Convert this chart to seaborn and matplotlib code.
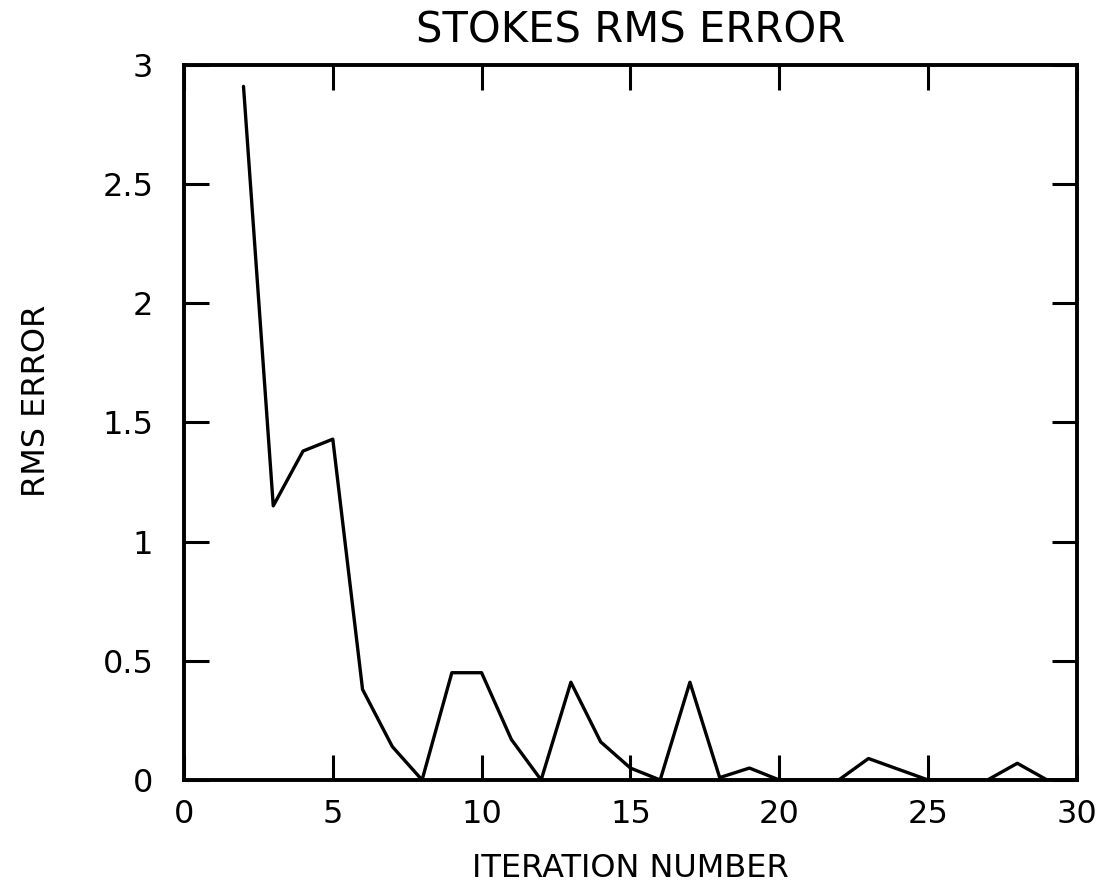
import pandas as pd
import seaborn as sns
import matplotlib
matplotlib.use('Agg')
import matplotlib.pyplot as plt

# values
iterations = [2, 3, 4, 5, 6, 7, 8, 9, 10, 11, 12, 13, 14, 15, 16,
              17, 18, 19, 20, 21, 22, 23, 24, 25, 26, 27, 28, 29, 30]
rms_error = [2.91, 1.15, 1.38, 1.43, 0.38, 0.14, 0.0, 0.45, 0.45, 0.17, 0.0, 0.41, 0.16, 0.05, 0.0,
             0.41, 0.01, 0.05, 0.0, 0.0, 0.0, 0.09, 0.045, 0.0, 0.0, 0.0, 0.07, 0.0, 0.0]
x_ticks = [0, 5, 10, 15, 20, 25, 30]
y_ticks = [0, 0.5, 1, 1.5, 2, 2.5, 3]
y_tick_labels = ["0", "0.5", "1", "1.5", "2", "2.5", "3"]

df = pd.DataFrame({"Iteration": iterations, "RMS": rms_error})

sns.set_theme(style="ticks", rc={
    "axes.linewidth": 2.8,
    "axes.edgecolor": "black",
    "text.color": "black",
    "axes.labelcolor": "black",
    "xtick.color": "black",
    "ytick.color": "black",
    "xtick.direction": "in",
    "ytick.direction": "in",
    "xtick.major.size": 18,
    "ytick.major.size": 18,
    "xtick.major.width": 2.2,
    "ytick.major.width": 2.2,
    "xtick.major.pad": 14,
    "ytick.major.pad": 22,
})
plt.rcParams["font.family"] = ["DejaVu Sans"]

fig = plt.figure(figsize=(11.05, 8.96), dpi=100)
ax = fig.add_axes([0.1665, 0.1295, 0.808, 0.798])

sns.lineplot(data=df, x="Iteration", y="RMS", color="black", linewidth=2.4, ax=ax)

ax.set_xlim(0, 30)
ax.set_ylim(0, 3)
ax.set_xticks(x_ticks)
ax.set_yticks(y_ticks)
ax.set_yticklabels(y_tick_labels)
ax.tick_params(axis="both", labelsize=23, top=True, right=True)

ax.set_title("STOKES RMS ERROR", fontsize=30, pad=16)
ax.set_xlabel("ITERATION NUMBER", fontsize=23, labelpad=16)
ax.set_ylabel("RMS ERROR", fontsize=23)
ax.yaxis.set_label_coords(-0.148, 0.53)

plt.savefig("out.png", dpi=100, facecolor="white")
plt.close()
